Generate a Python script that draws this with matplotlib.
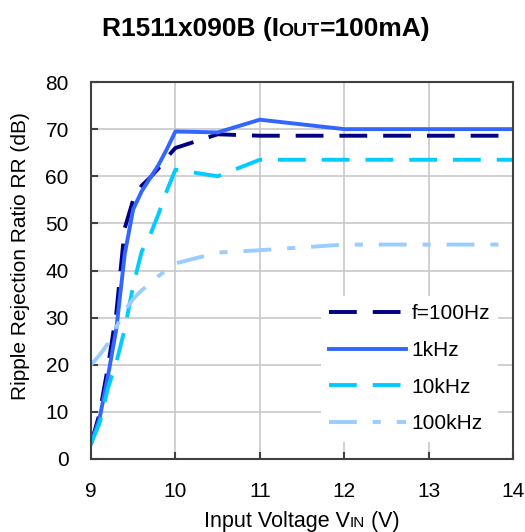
import matplotlib
matplotlib.use('Agg')
import matplotlib.pyplot as plt

plt.rcParams['font.family'] = ['Liberation Sans', 'DejaVu Sans']
plt.rcParams['lines.scale_dashes'] = False

# input voltage (V)
vin = [9.0, 9.1, 9.2, 9.3, 9.4, 9.5, 9.6, 9.7, 9.8, 9.9, 10.0, 10.5, 11.0, 12.0, 13.0, 14.0]

# ripple rejection (dB) per frequency
rr_100hz = [3.3, 9.5, 19.5, 31.0, 49.0, 55.0, 58.0, 59.7, 61.7, 64.0, 66.0, 68.9, 68.6, 68.6, 68.6, 68.6]
rr_1khz = [3.3, 8.5, 17.5, 27.6, 43.5, 53.0, 56.8, 59.6, 62.4, 65.8, 69.5, 69.3, 72.0, 70.0, 70.0, 70.0]
rr_10khz = [3.3, 7.5, 15.0, 20.5, 27.6, 36.8, 44.0, 47.5, 52.0, 57.0, 61.4, 60.0, 63.5, 63.5, 63.5, 63.5]
rr_100khz = [20.0, 22.0, 24.5, 28.0, 31.5, 34.0, 35.8, 37.2, 38.8, 40.2, 41.5, 43.8, 44.3, 45.5, 45.5, 45.5]

labels = ['f=100Hz', '1kHz', '10kHz', '100kHz']

W, H = 525, 532
fig = plt.figure(figsize=(W / 100, H / 100), dpi=100)
ax = fig.add_axes([91 / W, 1 - 459 / H, 422 / W, 377 / H])

lw = 2.8
ax.plot(vin, rr_100hz, color='#000080', lw=lw, linestyle=(0, (20, 11.5)), label=labels[0])
ax.plot(vin, rr_1khz, color='#3366FF', lw=lw, label=labels[1])
ax.plot(vin, rr_10khz, color='#00CCFF', lw=lw, linestyle=(0, (20, 11.5)), label=labels[2])
ax.plot(vin, rr_100khz, color='#99CCFF', lw=lw, linestyle=(0, (20, 11.5, 5.8, 11.5)), label=labels[3])

ax.set_xlim(9, 14)
ax.set_ylim(0, 80)
ax.set_xticks(range(9, 15))
ax.set_yticks(range(0, 81, 10))
ax.grid(True, color='#c8c8c8', lw=1.2)
ax.set_axisbelow(True)
for s in ax.spines.values():
    s.set_color('#404040')
    s.set_linewidth(1.5)
ax.tick_params(direction='in', length=5, width=1.5, color='#404040', labelsize=15)
ax.tick_params(axis='x', pad=16.5)
ax.tick_params(axis='y', pad=16)

leg = ax.legend(loc='upper left', bbox_to_anchor=(321 / W, 1 - 296 / H),
                bbox_transform=fig.transFigure, borderaxespad=0, borderpad=0.4,
                fontsize=15, handlelength=3.7, handletextpad=0.25, labelspacing=0.85,
                frameon=True, fancybox=False, framealpha=1, facecolor='white',
                edgecolor='none')

renderer = fig.canvas.get_renderer()


def mixed_text(parts, xc, yb):
    texts = [fig.text(0, yb, s, fontsize=sz, fontweight=wt, va='baseline', ha='left')
             for s, sz, wt in parts]
    widths = [t.get_window_extent(renderer).width / W for t in texts]
    x = xc - sum(widths) / 2
    for t, w in zip(texts, widths):
        t.set_x(x)
        x += w


mixed_text([('R1511x090B (I', 19, 'bold'), ('OUT', 14, 'bold'), ('=100mA)', 19, 'bold')],
           266 / W, 1 - 36 / H)
mixed_text([('Input Voltage V', 15.5, 'normal'), ('IN', 11, 'normal'), (' (V)', 15.5, 'normal')],
           302 / W, 1 - 527 / H)
fig.text(21 / W, 1 - 400 / H, 'Ripple Rejection Ratio RR (dB)', rotation=90,
         fontsize=15, ha='center', va='bottom')

fig.savefig('out.png', dpi=100)
